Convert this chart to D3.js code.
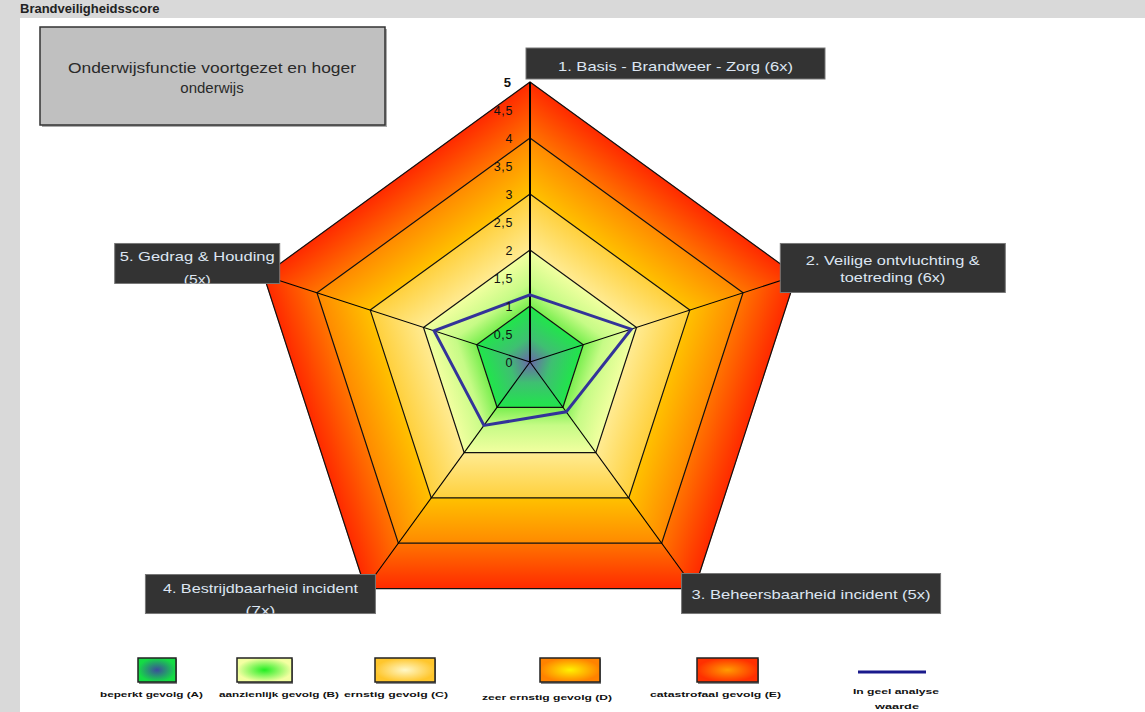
<!DOCTYPE html>
<html><head><meta charset="utf-8">
<script src="https://cdn.jsdelivr.net/npm/d3@7"></script>
<style>
body{margin:0;background:#d9d9d9;}
svg{display:block;font-family:Arial,"Liberation Sans",sans-serif;}
</style></head>
<body><svg id="c" width="1145" height="712"></svg>
<script>
// ---------------- data ----------------
const axisLabels = [
  ["1.  Basis - Brandweer - Zorg  (6x)"],
  ["2.  Veilige ontvluchting &", "toetreding  (6x)"],
  ["3.  Beheersbaarheid incident  (5x)"],
  ["4.  Bestrijdbaarheid incident", "(7x)"],
  ["5.  Gedrag & Houding", "(5x)"]
];
const scores = [1.2, 1.9, 1.1, 1.4, 1.8];
const tickValues = [0, 0.5, 1, 1.5, 2, 2.5, 3, 3.5, 4, 4.5, 5];
const tickLabels = ["0", "0,5", "1", "1,5", "2", "2,5", "3", "3,5", "4", "4,5", "5"];
const bandLevels = [1, 2, 3, 4, 5];
const bandNames = ["beperkt gevolg (A)", "aanzienlijk gevolg (B)", "ernstig gevolg (C)", "zeer ernstig gevolg (D)", "catastrofaal gevolg (E)"];
const lineLegend = ["In geel analyse", "waarde"];
const titleLines = ["Onderwijsfunctie voortgezet en hoger", "onderwijs"];
const pageTitle = "Brandveiligheidsscore";

// ---------------- styles / layout ----------------
const bandStops = [
  [[0, "#6a66aa"], [0.45, "#3fbf72"], [1, "#20e64a"]],
  [[0, "#78ee4e"], [0.4, "#c6fb86"], [1, "#f2ffa0"]],
  [[0, "#ffeb92"], [1, "#ffd03c"]],
  [[0, "#ffc100"], [1, "#ff8a00"]],
  [[0, "#ff7400"], [1, "#ff2a00"]]
];
const legendStops = [
  ["#3c4c9c", "#14dc44"],
  ["#22ee22", "#f4ffa2"],
  ["#fff8c8", "#ffc62c"],
  ["#fff200", "#ff8200"],
  ["#ff9c00", "#ff3000"]
];
const legendBoxes = [[138, 38], [237, 55], [375, 60], [540, 60], [697, 61]];
const legendLabelPos = [[100, 697, 103], [219, 697, 120], [344, 697, 104], [482, 700, 130], [650, 697, 131]];
const boxStyle = [
  {dx: -4, dy: -34, w: 299, h: 31, anchor: "left", lines: [[71, 235]]},
  {dx: -16, dy: -32, w: 225, h: 49, anchor: "left", lines: [[265, 174], [282, 105]]},
  {dx: -13, dy: -15, w: 259, h: 40, anchor: "left", lines: [[599, 239]]},
  {dx: 10, dy: -14, w: 230, h: 39, anchor: "right", lines: [[593, 195], [615, 30]]},
  {dx: 16, dy: -32, w: 165, h: 40, anchor: "right", lines: [[261, 155], [284, 27]]}
];

const svg = d3.select("#c");
const defs = svg.append("defs");
const cx = 530, cy = 362, R = 280;
const r = d3.scaleLinear().domain([0, 5]).range([0, R]);
const ang = d3.scaleLinear().domain([0, axisLabels.length]).range([0, 2 * Math.PI]);
const n = axisLabels.length;
const pt = (i, v) => [cx + r(v) * Math.sin(ang(i)), cy - r(v) * Math.cos(ang(i))];
const half = Math.PI / n;

// background
svg.append("rect").attr("x", 20).attr("y", 18).attr("width", 1125).attr("height", 694).attr("fill", "#fff");
svg.append("text").attr("x", 20).attr("y", 13).attr("font-size", 13).attr("font-weight", "bold").attr("fill", "#222").text(pageTitle);

// title box
const tb = svg.append("g");
tb.append("rect").attr("x", 42).attr("y", 29).attr("width", 345).attr("height", 98).attr("fill", "#555").attr("opacity", 0.5);
tb.append("rect").attr("x", 40).attr("y", 27).attr("width", 345).attr("height", 98)
  .attr("fill", "#c0c0c0").attr("stroke", "#333").attr("stroke-width", 1.5);
titleLines.forEach((t, j) => {
  const tx = tb.append("text").attr("x", 212).attr("y", 73 + j * 20).attr("text-anchor", "middle")
    .attr("font-size", 15).attr("fill", "#2a2a2a").text(t);
  if (j === 0) tx.attr("textLength", 288).attr("lengthAdjust", "spacingAndGlyphs");
});

// bands (each band split into trapezoids shaded perpendicular to their edge)
const gBands = svg.append("g");
bandLevels.forEach((lvl, k) => {
  const lo = lvl - 1;
  for (let i = 0; i < n; i++) {
    const an = ang(i) + half;
    const a0 = r(lo) * Math.cos(half), a1 = r(lvl) * Math.cos(half);
    const id = `b${k}_${i}`;
    const gr = defs.append("linearGradient").attr("id", id).attr("gradientUnits", "userSpaceOnUse")
      .attr("x1", cx + a0 * Math.sin(an)).attr("y1", cy - a0 * Math.cos(an))
      .attr("x2", cx + a1 * Math.sin(an)).attr("y2", cy - a1 * Math.cos(an));
    bandStops[k].forEach(s => gr.append("stop").attr("offset", s[0]).attr("stop-color", s[1]));
    const poly = [pt(i, lo), pt(i, lvl), pt(i + 1, lvl), pt(i + 1, lo)];
    gBands.append("path").attr("d", d3.line()(poly) + "Z").attr("fill", `url(#${id})`)
      .attr("stroke", `url(#${id})`).attr("stroke-width", 0.6);
  }
});

// grid pentagons
const closed = d3.line().curve(d3.curveLinearClosed);
bandLevels.forEach(lvl => {
  svg.append("path").attr("d", closed(d3.range(n).map(i => pt(i, lvl))))
    .attr("fill", "none").attr("stroke", "#111").attr("stroke-width", 1.2);
});
// spokes
d3.range(n).forEach(i => {
  const p = pt(i, 5);
  svg.append("line").attr("x1", cx).attr("y1", cy).attr("x2", p[0]).attr("y2", p[1])
    .attr("stroke", "#000").attr("stroke-width", i === 0 ? 2 : 1.1);
});

// data line
svg.append("path").attr("d", closed(scores.map((v, i) => pt(i, v))))
  .attr("fill", "none").attr("stroke", "#333399").attr("stroke-width", 3).attr("stroke-linejoin", "miter");

// tick labels
tickValues.forEach((v, j) => {
  const last = j === tickValues.length - 1;
  svg.append("text").attr("x", last ? 511 : 513).attr("y", cy - r(v) + 5)
    .attr("text-anchor", "end").attr("font-size", last ? 13 : 12.5)
    .attr("font-weight", last ? "bold" : "normal")
    .attr("letter-spacing", last ? 0 : 0.6)
    .attr("fill", "#111").text(tickLabels[j]);
});

// axis label boxes
axisLabels.forEach((lines, i) => {
  const p = pt(i, 5), st = boxStyle[i];
  const x0 = st.anchor === "left" ? p[0] + st.dx : p[0] + st.dx - st.w;
  const y0 = p[1] + st.dy;
  const cid = `clip${i}`;
  defs.append("clipPath").attr("id", cid).append("rect").attr("x", x0).attr("y", y0).attr("width", st.w).attr("height", st.h);
  const g = svg.append("g");
  g.append("rect").attr("x", x0).attr("y", y0).attr("width", st.w).attr("height", st.h)
    .attr("fill", "#333333").attr("stroke", "#777").attr("stroke-width", 1);
  const gt = g.append("g").attr("clip-path", `url(#${cid})`);
  lines.forEach((t, j) => {
    gt.append("text").attr("x", x0 + st.w / 2).attr("y", st.lines[j][0])
      .attr("text-anchor", "middle").attr("font-size", 13).attr("fill", "#dde6f2")
      .attr("textLength", st.lines[j][1]).attr("lengthAdjust", "spacingAndGlyphs").text(t);
  });
});

// legend
bandNames.forEach((name, k) => {
  const id = `lg${k}`;
  const gr = defs.append("radialGradient").attr("id", id);
  gr.append("stop").attr("offset", 0).attr("stop-color", legendStops[k][0]);
  gr.append("stop").attr("offset", 1).attr("stop-color", legendStops[k][1]);
  const [lx, lw] = legendBoxes[k];
  svg.append("rect").attr("x", lx + 1).attr("y", 659).attr("width", lw).attr("height", 25).attr("fill", "#888");
  svg.append("rect").attr("x", lx).attr("y", 658).attr("width", lw).attr("height", 24)
    .attr("fill", `url(#${id})`).attr("stroke", "#222").attr("stroke-width", 1.5);
  const [tx, ty, tw] = legendLabelPos[k];
  svg.append("text").attr("x", tx).attr("y", ty).attr("font-size", 8).attr("font-weight", "bold")
    .attr("fill", "#111").attr("textLength", tw).attr("lengthAdjust", "spacingAndGlyphs").text(name);
});
svg.append("line").attr("x1", 858).attr("x2", 926).attr("y1", 672).attr("y2", 672)
  .attr("stroke", "#1a1a8c").attr("stroke-width", 3);
svg.append("text").attr("x", 896).attr("y", 694).attr("text-anchor", "middle").attr("font-size", 8)
  .attr("font-weight", "bold").attr("fill", "#111").attr("textLength", 86).attr("lengthAdjust", "spacingAndGlyphs").text(lineLegend[0]);
svg.append("text").attr("x", 897).attr("y", 709).attr("text-anchor", "middle").attr("font-size", 8)
  .attr("font-weight", "bold").attr("fill", "#111").attr("textLength", 44).attr("lengthAdjust", "spacingAndGlyphs").text(lineLegend[1]);
</script></body></html>
